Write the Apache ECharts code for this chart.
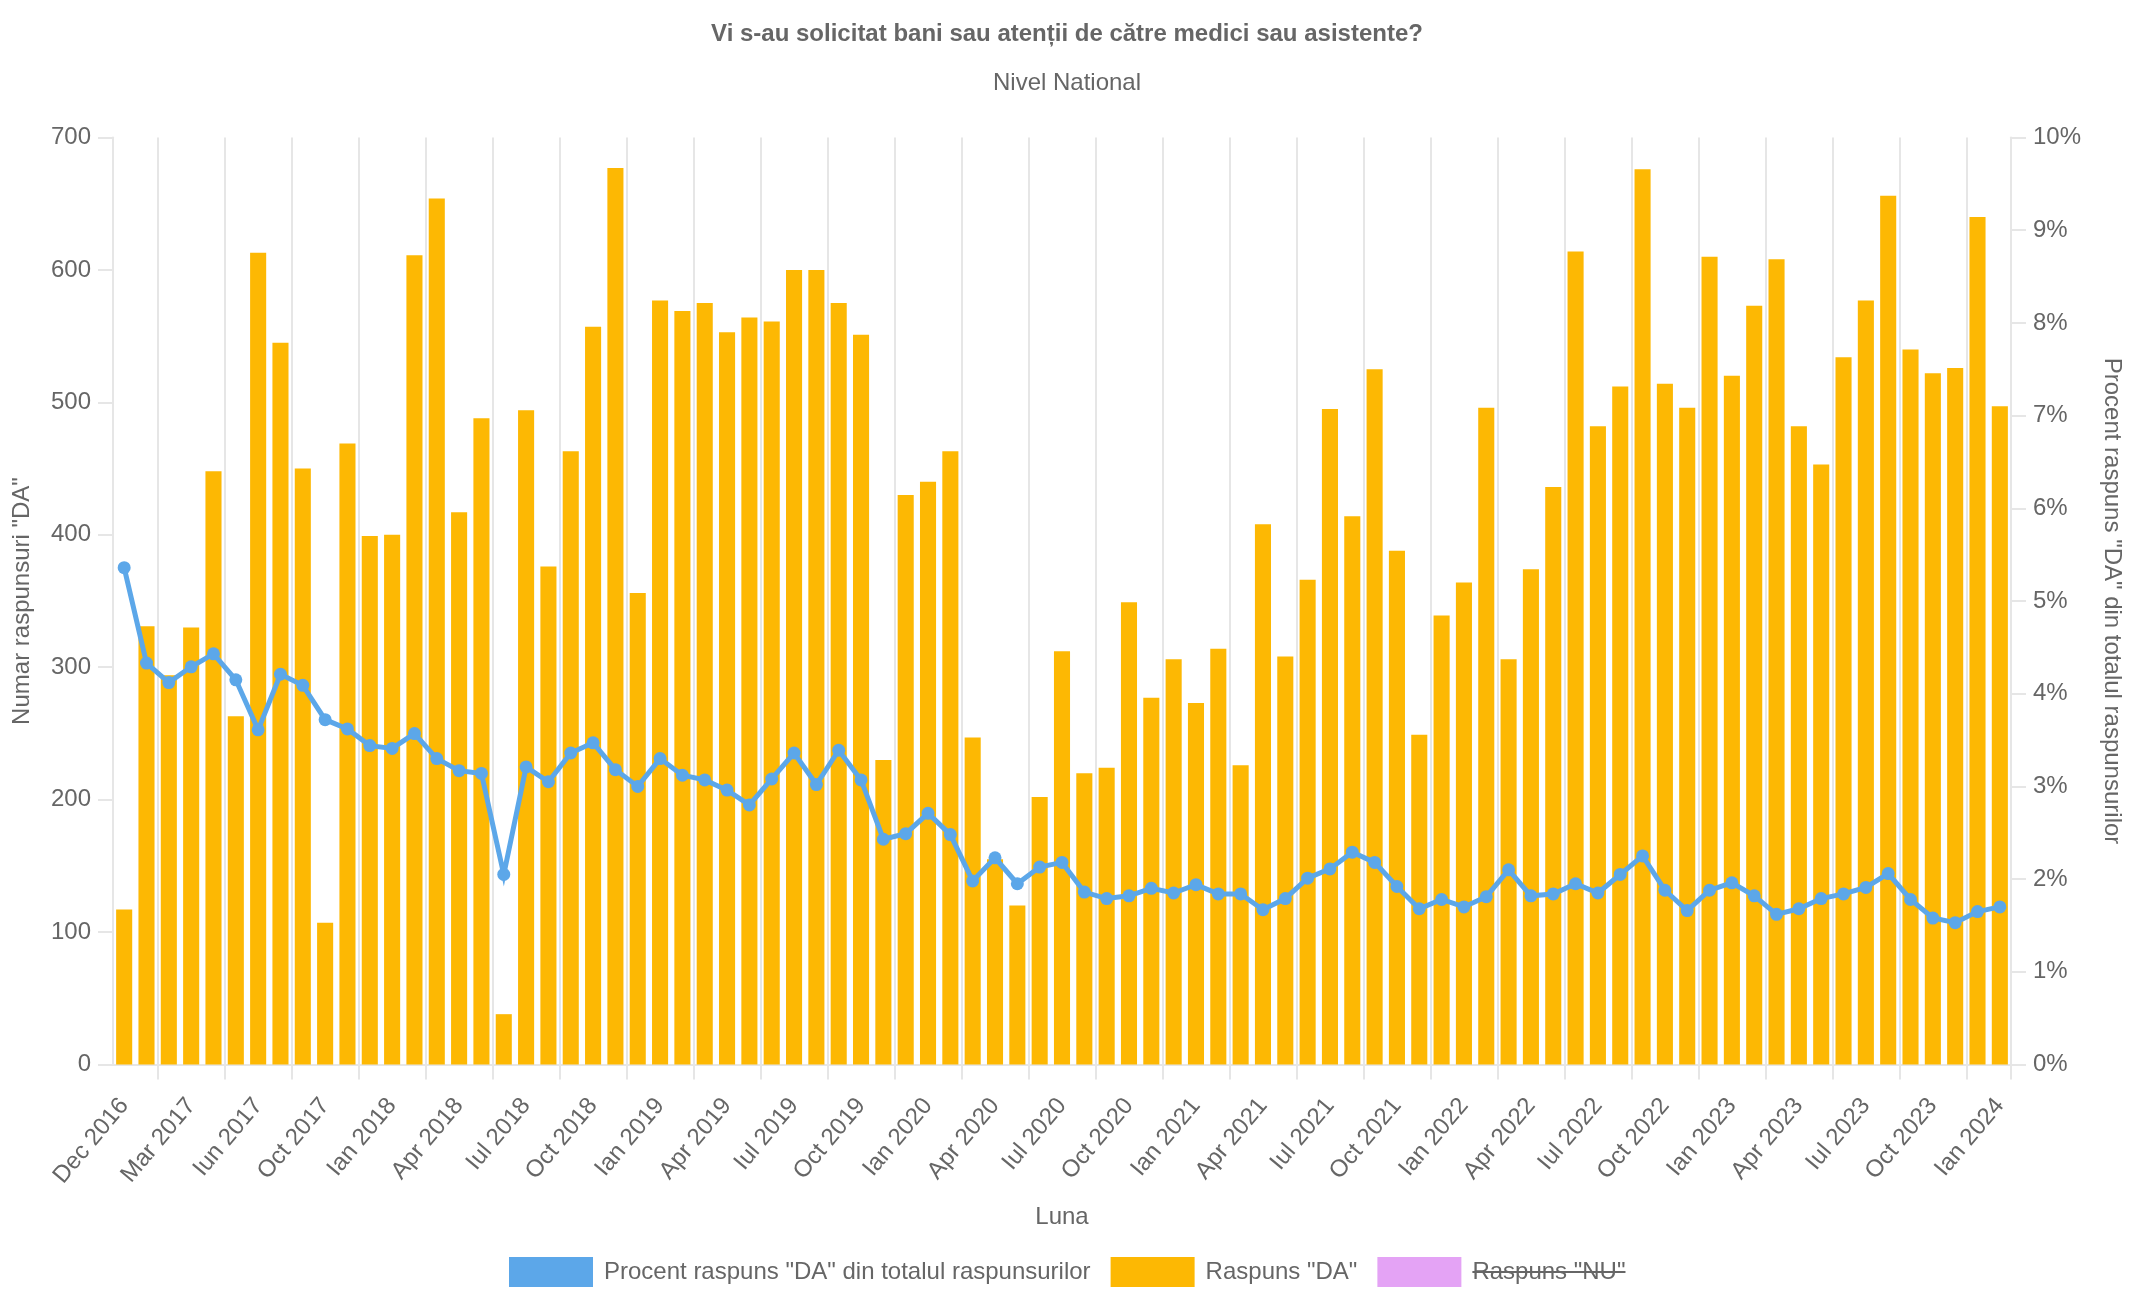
<!DOCTYPE html>
<html>
<head>
<meta charset="utf-8">
<script src="https://cdn.jsdelivr.net/npm/echarts@6/dist/echarts.min.js"></script>
<style>
html,body{margin:0;padding:0;background:#fff;}
#c{width:2134px;height:1304px;}
</style>
</head>
<body>
<div id="c"></div>
<script>
var months = [
 'Dec 2016',
 'Ian 2017','Feb 2017','Mar 2017','Apr 2017','Mai 2017','Iun 2017','Iul 2017','Sep 2017','Oct 2017','Noi 2017','Dec 2017',
 'Ian 2018','Feb 2018','Mar 2018','Apr 2018','Mai 2018','Iun 2018','Iul 2018','Aug 2018','Sep 2018','Oct 2018','Noi 2018','Dec 2018',
 'Ian 2019','Feb 2019','Mar 2019','Apr 2019','Mai 2019','Iun 2019','Iul 2019','Aug 2019','Sep 2019','Oct 2019','Noi 2019','Dec 2019',
 'Ian 2020','Feb 2020','Mar 2020','Apr 2020','Mai 2020','Iun 2020','Iul 2020','Aug 2020','Sep 2020','Oct 2020','Noi 2020','Dec 2020',
 'Ian 2021','Feb 2021','Mar 2021','Apr 2021','Mai 2021','Iun 2021','Iul 2021','Aug 2021','Sep 2021','Oct 2021','Noi 2021','Dec 2021',
 'Ian 2022','Feb 2022','Mar 2022','Apr 2022','Mai 2022','Iun 2022','Iul 2022','Aug 2022','Sep 2022','Oct 2022','Noi 2022','Dec 2022',
 'Ian 2023','Feb 2023','Mar 2023','Apr 2023','Mai 2023','Iun 2023','Iul 2023','Aug 2023','Sep 2023','Oct 2023','Noi 2023','Dec 2023',
 'Ian 2024'
];

var raspunsDA = [
 117,331,294,330,448,263,613,545,450,107,
 469,399,400,611,654,417,488,38,494,376,
 463,557,677,356,577,569,575,553,564,561,
 600,600,575,551,230,430,440,463,247,155,
 120,202,312,220,224,349,277,306,273,314,
 226,408,308,366,495,414,525,388,249,339,
 364,496,306,374,436,614,482,512,676,514,
 496,610,520,573,608,482,453,534,577,656,
 540,522,526,640,497
];

var procentDA = [
 5.36,4.33,4.12,4.29,4.43,4.15,3.61,4.21,4.09,3.72,
 3.62,3.44,3.41,3.57,3.30,3.17,3.14,2.05,3.21,3.05,
 3.36,3.47,3.18,3.00,3.30,3.12,3.07,2.96,2.80,3.08,
 3.36,3.02,3.39,3.07,2.43,2.49,2.71,2.48,1.98,2.23,
 1.95,2.13,2.18,1.86,1.79,1.82,1.90,1.85,1.94,1.84,
 1.84,1.67,1.79,2.01,2.11,2.29,2.18,1.92,1.68,1.78,
 1.70,1.81,2.10,1.82,1.84,1.95,1.85,2.05,2.25,1.88,
 1.66,1.88,1.96,1.82,1.62,1.68,1.79,1.84,1.91,2.06,
 1.78,1.58,1.53,1.65,1.70
];

var raspunsNU = [];

var leftTicks = { min: 0, max: 700, interval: 100 };
var rightTicks = { min: 0, max: 10, interval: 1 };

var seriesNames = ['Procent raspuns "DA" din totalul raspunsurilor', 'Raspuns "DA"', 'Raspuns "NU"'];
var titleText = 'Vi s-au solicitat bani sau atenții de către medici sau asistente?';
var subtitleText = 'Nivel National';

var FONT = '"Liberation Sans", Arial, Helvetica, sans-serif';
var TXT = '#666';
var GRID = '#e6e6e6';
var BLUE = '#5ca7e9';
var ORANGE = '#fdb803';
var PINK = '#e4a3f5';

// legend layout (centered) computed from text widths
var ctx = document.createElement('canvas').getContext('2d');
ctx.font = '24px ' + FONT;
var iconW = 84, iconH = 30, iconTextGap = 5, textPad = 6, itemGap = 20;
var widths = seriesNames.map(function (s) { return ctx.measureText(s).width; });
var total = 0;
widths.forEach(function (w) { total += iconW + iconTextGap + textPad + w; });
total += itemGap * (widths.length - 1);
var legendLeft = Math.round((2134 - total) / 2);
var legendTop = 1257;
var nuTextStart = legendLeft
  + (iconW + iconTextGap + textPad + widths[0] + itemGap)
  + (iconW + iconTextGap + textPad + widths[1] + itemGap)
  + iconW + iconTextGap + textPad;
var nuTextEnd = nuTextStart + widths[2];

var chart = echarts.init(document.getElementById('c'), null, { renderer: 'canvas' });

var every3 = function (i) { return i % 3 === 2; };

var option = {
  animation: false,
  backgroundColor: '#fff',
  textStyle: { fontFamily: FONT },
  title: [
    { text: titleText, left: 'center', top: 22, padding: 0,
      textStyle: { fontSize: 24, fontWeight: 'bold', color: TXT, fontFamily: FONT } },
    { text: subtitleText, left: 'center', top: 71, padding: 0,
      textStyle: { fontSize: 24, fontWeight: 'normal', color: TXT, fontFamily: FONT } }
  ],
  legend: {
    data: seriesNames,
    left: legendLeft,
    top: legendTop,
    orient: 'horizontal',
    icon: 'rect',
    itemWidth: iconW,
    itemHeight: iconH,
    itemGap: itemGap,
    padding: 0,
    selectedMode: false,
    textStyle: { fontSize: 24, color: TXT, fontFamily: FONT, padding: [0, 0, 0, textPad] }
  },
  grid: { left: 113, right: 123, top: 137.5, bottom: 239.5, containLabel: false },
  xAxis: {
    type: 'category',
    data: months,
    boundaryGap: true,
    name: 'Luna',
    nameLocation: 'middle',
    nameGap: 141,
    nameTextStyle: { fontSize: 24, color: TXT, fontFamily: FONT },
    axisLine: { show: true, lineStyle: { color: GRID, width: 2 } },
    axisTick: { show: true, interval: every3, length: 15, lineStyle: { color: GRID, width: 2 } },
    splitLine: { show: true, interval: every3, lineStyle: { color: GRID, width: 2 } },
    axisLabel: { interval: 2, rotate: 50, margin: 37, fontSize: 24, color: TXT, fontFamily: FONT }
  },
  yAxis: [
    {
      type: 'value', position: 'left',
      min: leftTicks.min, max: leftTicks.max, interval: leftTicks.interval,
      name: 'Numar raspunsuri "DA"', nameLocation: 'middle', nameGap: 79,
      nameTextStyle: { fontSize: 24, color: TXT, fontFamily: FONT },
      axisLine: { show: true, lineStyle: { color: GRID, width: 2 } },
      axisTick: { show: true, length: 15, lineStyle: { color: GRID, width: 2 } },
      splitLine: { show: false },
      axisLabel: { margin: 22, fontSize: 24, color: TXT, fontFamily: FONT }
    },
    {
      type: 'value', position: 'right',
      min: rightTicks.min, max: rightTicks.max, interval: rightTicks.interval,
      name: 'Procent raspuns "DA" din totalul raspunsurilor', nameLocation: 'middle', nameGap: 89, nameRotate: -90,
      nameTextStyle: { fontSize: 24, color: TXT, fontFamily: FONT },
      axisLine: { show: true, lineStyle: { color: GRID, width: 2 } },
      axisTick: { show: true, length: 15, lineStyle: { color: GRID, width: 2 } },
      splitLine: { show: false },
      axisLabel: { margin: 22, fontSize: 24, color: TXT, fontFamily: FONT, formatter: '{value}%' }
    }
  ],
  series: [
    {
      name: seriesNames[0], type: 'line', yAxisIndex: 1, data: procentDA, z: 5,
      symbol: 'circle', symbolSize: 13, showSymbol: true, showAllSymbol: true,
      lineStyle: { color: BLUE, width: 5, join: 'miter' },
      itemStyle: { color: BLUE }
    },
    {
      name: seriesNames[1], type: 'bar', yAxisIndex: 0, data: raspunsDA, stack: 'r',
      barWidth: '72%', itemStyle: { color: ORANGE }
    },
    {
      name: seriesNames[2], type: 'bar', yAxisIndex: 0, data: raspunsNU, stack: 'r',
      barWidth: '72%', itemStyle: { color: PINK }
    }
  ],
  graphic: [
    { type: 'line', silent: true, z: 100,
      shape: { x1: nuTextStart, y1: legendTop + iconH / 2, x2: nuTextEnd, y2: legendTop + iconH / 2 },
      style: { stroke: TXT, lineWidth: 2 } }
  ]
};
chart.setOption(option);
</script>
</body>
</html>
